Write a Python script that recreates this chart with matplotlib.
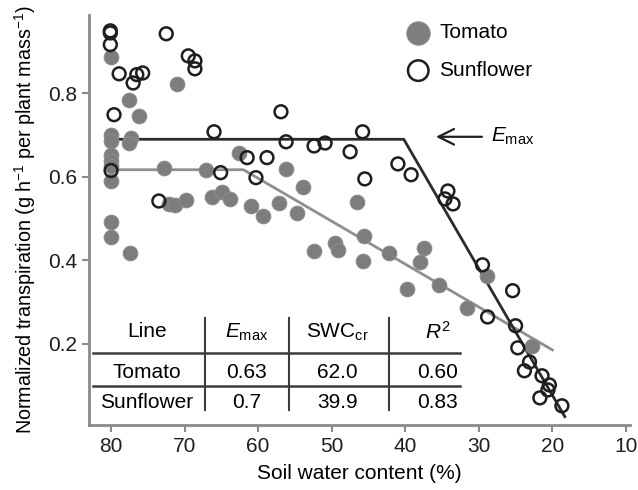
import matplotlib.pyplot as plt

plt.rcParams['font.family'] = ['Liberation Sans', 'DejaVu Sans']
plt.rcParams['mathtext.fontset'] = 'custom'
plt.rcParams['mathtext.rm'] = 'Liberation Sans'
plt.rcParams['mathtext.it'] = 'Liberation Sans:italic'

# soil water content (%) and normalized transpiration
tomato_x = [80.0, 80.0, 80.0, 80.0, 80.0, 80.0, 80.0, 80.0, 80.0,
            77.4, 77.6, 76.2, 77.3, 77.6, 71.0, 72.8, 72.1, 71.3, 69.8,
            67.1, 66.3, 64.9, 63.8, 62.6, 61.0, 59.4, 56.2, 53.9, 57.2,
            54.7, 52.4, 49.6, 49.2, 46.6, 45.6, 45.8, 42.2, 39.8, 37.5,
            38.0, 35.4, 31.6, 28.9, 22.8]
tomato_y = [0.888, 0.701, 0.685, 0.653, 0.637, 0.625, 0.589, 0.492, 0.456,
            0.418, 0.783, 0.746, 0.693, 0.681, 0.823, 0.622, 0.535, 0.533, 0.545,
            0.617, 0.552, 0.563, 0.547, 0.657, 0.531, 0.506, 0.619, 0.576, 0.538,
            0.513, 0.423, 0.442, 0.425, 0.540, 0.458, 0.399, 0.418, 0.331, 0.430,
            0.396, 0.341, 0.286, 0.363, 0.195]

sunflower_x = [80.1, 80.1, 80.1, 78.9, 77.0, 76.5, 75.7, 79.6, 80.0,
               72.5, 69.5, 68.6, 68.6, 66.0, 73.5, 65.1, 61.5, 60.3,
               56.9, 56.2, 52.4, 50.9, 58.8, 45.8, 47.5, 45.5, 41.0, 39.2,
               34.2, 34.6, 33.5, 29.5, 25.4, 28.8, 25.0, 24.7, 23.1, 23.8,
               21.4, 20.4, 20.6, 21.7, 18.7]
sunflower_y = [0.950, 0.945, 0.917, 0.847, 0.825, 0.845, 0.849, 0.749, 0.615,
               0.943, 0.890, 0.878, 0.859, 0.708, 0.542, 0.610, 0.646, 0.598,
               0.756, 0.684, 0.674, 0.681, 0.646, 0.708, 0.660, 0.595, 0.631, 0.605,
               0.566, 0.547, 0.535, 0.389, 0.327, 0.264, 0.243, 0.190, 0.156, 0.135,
               0.123, 0.101, 0.089, 0.070, 0.051]

# fitted segmented lines (breakpoints)
tomato_fit_x = [80.0, 62.0, 20.0]
tomato_fit_y = [0.617, 0.617, 0.185]
sunflower_fit_x = [80.0, 40.2, 18.3]
sunflower_fit_y = [0.69, 0.69, 0.025]

table_header = ['Line', r'$E_{\rm max}$', r'SWC$_{\rm cr}$', r'$R^{2}$']
table_rows = [['Tomato', '0.63', '62.0', '0.60'],
              ['Sunflower', '0.7', '39.9', '0.83']]

fig = plt.figure(figsize=(6.38, 4.9), dpi=100)
ax = fig.add_axes([0.1395, 0.1327, 0.8475, 0.8367])

ax.plot(tomato_fit_x, tomato_fit_y, color='#8f8f8f', lw=2, zorder=2)
ax.plot(sunflower_fit_x, sunflower_fit_y, color='#2b2b2b', lw=2, zorder=2)
ax.scatter(tomato_x, tomato_y, s=110, color='#7d7d7d', edgecolor='#8a8a8a',
           lw=0.8, label='Tomato', zorder=3)
ax.scatter(sunflower_x, sunflower_y, s=85, facecolor='none', edgecolor='#1e1e1e',
           lw=1.8, label='Sunflower', zorder=4)

ax.annotate('', xy=(36.2, 0.696), xytext=(29.2, 0.696),
            arrowprops=dict(arrowstyle='->', color='#1e1e1e', lw=1.6,
                            mutation_scale=28))
ax.text(28.3, 0.696, r'$E_{\rm max}$', fontsize=15, va='center', ha='left')

ax.set_xlim(83.0, 9.48)
ax.set_ylim(0.005, 0.988)
ax.set_xticks([80, 70, 60, 50, 40, 30, 20, 10])
ax.set_yticks([0.2, 0.4, 0.6, 0.8])
ax.set_yticklabels(['0.2', '0.4', '0.6', '0.8'])
for s in ['top', 'right']:
    ax.spines[s].set_visible(False)
for s in ['left', 'bottom']:
    ax.spines[s].set_color('#8a8a8a')
    ax.spines[s].set_linewidth(2)
ax.tick_params(colors='#8a8a8a', labelcolor='#1e1e1e', labelsize=15,
               length=5, width=1.5)
ax.set_xlabel('Soil water content (%)', fontsize=15, labelpad=6)
ax.set_ylabel('Normalized transpiration (g h$^{-1}$ per plant mass$^{-1}$)',
              fontsize=14.2, labelpad=7)

leg = ax.legend(loc='upper left', bbox_to_anchor=(0.555, 1.0), frameon=False,
                fontsize=15, markerscale=1.6, handletextpad=0.0,
                labelspacing=0.9, borderaxespad=0)

# summary table inside the axes
col_x = [0.107, 0.292, 0.460, 0.645]
row_y = [0.227, 0.129, 0.054]
for j, h in enumerate(table_header):
    ax.text(col_x[j], row_y[0], h, transform=ax.transAxes, fontsize=15,
            ha='center', va='center')
for i, row in enumerate(table_rows):
    for j, v in enumerate(row):
        ax.text(col_x[j], row_y[i + 1], v, transform=ax.transAxes,
                fontsize=15, ha='center', va='center')
for yy in [0.1756, 0.0951]:
    ax.plot([0.0074, 0.686], [yy, yy], transform=ax.transAxes,
            color='#3c3c3c', lw=1.8, clip_on=False)
for xx in [0.2144, 0.3697, 0.5545]:
    ax.plot([xx, xx], [0.0366, 0.261], transform=ax.transAxes,
            color='#3c3c3c', lw=1.5, clip_on=False)

plt.savefig('out.png', dpi=100)
